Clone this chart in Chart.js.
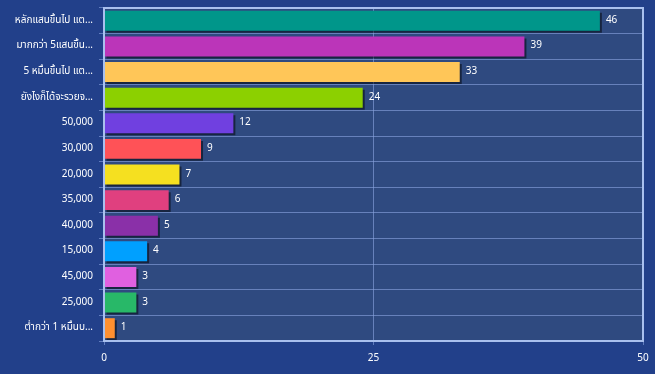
<!DOCTYPE html>
<html>
<head>
<meta charset="utf-8">
<script src="https://cdn.jsdelivr.net/npm/chart.js@4"></script>
<style>
  html, body { margin: 0; padding: 0; background: #22408a; }
  #wrap { width: 655px; height: 374px; }
</style>
</head>
<body>
<div id="wrap"><canvas id="incomeChart"></canvas></div>
<script>
const labels = [
    "หลักแสนขึ้นไป แต...",
    "มากกว่า 5แสนขึ้น...",
    "5 หมื่นขึ้นไป แต...",
    "ยังไงก็ได้จะรวยจ...",
    "50,000",
    "30,000",
    "20,000",
    "35,000",
    "40,000",
    "15,000",
    "45,000",
    "25,000",
    "ต่ำกว่า 1 หมื่นบ..."
];

const values = [46, 39, 33, 24, 12, 9, 7, 6, 5, 4, 3, 3, 1];

const barColors = [
    '#00968a', '#bb35b9', '#ffc658', '#8cd000', '#7040e0',
    '#ff5257', '#f5e020', '#e0407f', '#8a30a8', '#00a0ff',
    '#e060e0', '#28b868', '#ff9030'
];

const xTicks = [0, 25, 50];

const fontFamily = 'Tahoma, "Noto Sans Thai", "Noto Sans", sans-serif';

// plot background + border
const plotArea = {
    id: 'plotArea',
    beforeDraw(chart) {
        const { ctx, chartArea: a } = chart;
        ctx.save();
        ctx.fillStyle = '#2f4a80';
        ctx.fillRect(a.left, a.top, a.right - a.left, a.bottom - a.top);
        ctx.restore();
    },
    afterDatasetsDraw(chart) {
        const { ctx, chartArea: a } = chart;
        ctx.save();
        ctx.strokeStyle = '#a9c0ee';
        ctx.lineWidth = 2;
        ctx.strokeRect(a.left, a.top, a.right - a.left, a.bottom - a.top);
        ctx.restore();
    }
};

// small drop shadow under bars
const barShadow = {
    id: 'barShadow',
    beforeDatasetDraw(chart) {
        const ctx = chart.ctx;
        ctx.save();
        ctx.shadowColor = 'rgba(0,0,0,0.5)';
        ctx.shadowOffsetX = 2;
        ctx.shadowOffsetY = 2;
        ctx.shadowBlur = 0;
    },
    afterDatasetDraw(chart) {
        chart.ctx.restore();
    }
};

// value labels at bar end
const valueLabels = {
    id: 'valueLabels',
    afterDatasetsDraw(chart) {
        const ctx = chart.ctx;
        const meta = chart.getDatasetMeta(0);
        ctx.save();
        ctx.fillStyle = '#ffffff';
        ctx.font = '10px ' + fontFamily;
        ctx.textBaseline = 'middle';
        ctx.textAlign = 'left';
        meta.data.forEach((bar, i) => {
            ctx.fillText(String(values[i]), bar.x + 6, bar.y);
        });
        ctx.restore();
    }
};

new Chart(document.getElementById('incomeChart'), {

    type: 'bar',

    data: {
        labels: labels,
        datasets: [{
            data: values,
            backgroundColor: barColors,
            borderWidth: 0,
            categoryPercentage: 1,
            barPercentage: 0.78
        }]
    },

    options: {
        indexAxis: 'y',
        responsive: true,
        maintainAspectRatio: false,
        animation: false,
        layout: {
            padding: { top: 8, right: 12, left: 0, bottom: 0 }
        },
        plugins: {
            legend: { display: false },
            tooltip: { enabled: false }
        },
        scales: {
            x: {
                min: 0,
                max: 50,
                afterBuildTicks: (scale) => {
                    scale.ticks = xTicks.map(v => ({ value: v }));
                },
                afterFit: (scale) => {
                    scale.height = 33;
                    scale.paddingLeft = 0;
                    scale.paddingRight = 0;
                },
                ticks: {
                    color: '#ffffff',
                    padding: 8,
                    font: { size: 10, family: fontFamily }
                },
                grid: {
                    color: 'rgba(150,175,235,0.55)',
                    tickLength: 4,
                    drawOnChartArea: true
                },
                border: { display: false }
            },
            y: {
                afterFit: (scale) => {
                    scale.width = 104;
                    scale.paddingTop = 0;
                    scale.paddingBottom = 0;
                },
                ticks: {
                    color: '#ffffff',
                    padding: 6,
                    font: { size: 10, family: fontFamily }
                },
                grid: {
                    color: 'rgba(150,175,235,0.55)',
                    tickLength: 5,
                    offset: true
                },
                border: { display: false }
            }
        }
    },

    plugins: [plotArea, barShadow, valueLabels]
});
</script>
</body>
</html>
